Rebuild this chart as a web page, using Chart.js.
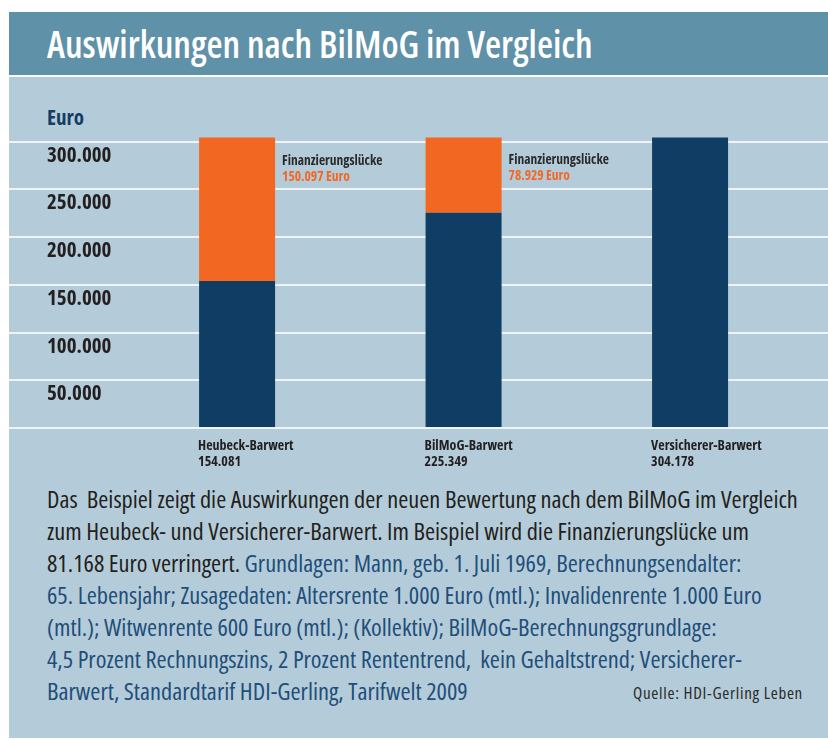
<!DOCTYPE html>
<html lang="de">
<head>
<meta charset="utf-8">
<title>Auswirkungen nach BilMoG im Vergleich</title>
<script src="https://cdn.jsdelivr.net/npm/chart.js@4.4.1/dist/chart.umd.min.js"></script>
<style>
  html, body { margin: 0; padding: 0; background: #fff; overflow: hidden; }
  body { width: 828px; height: 740px; position: relative; font-family: "Open Sans", sans-serif; font-stretch: 75%; }
  #panel { position: absolute; left: 9px; top: 12px; width: 819px; height: 726px; background: #b4ccd9; }
  #head { position: absolute; left: 0; top: 0; width: 819px; height: 63px; background: #5f91a8; border-bottom: 2px solid #fff; }
  #head h1 { position: absolute; left: 38px; top: 13px; margin: 0; font-size: 37px; line-height: 37px; font-weight: 600; color: #fff; white-space: nowrap; }
  #unit { position: absolute; left: 38px; top: 95px; font-size: 21px; line-height: 21px; font-weight: bold; color: #143d63; }
  #box { position: absolute; left: 0; top: 65px; width: 819px; height: 391px; }
  #note { position: absolute; left: 38px; top: 471px; font-size: 24.4px; line-height: 32px; color: #231f20; white-space: pre; }
  #note .b { color: #1f4e79; }
  #src { position: absolute; right: 25px; top: 671px; font-size: 17px; line-height: 20px; letter-spacing: 0.7px; color: #2b2b2b; white-space: nowrap; }
</style>
</head>
<body>
<div id="panel">
  <div id="head"><h1>Auswirkungen nach BilMoG im Vergleich</h1></div>
  <div id="unit">Euro</div>
  <div id="box"><canvas id="chart_bilmog"></canvas></div>
  <div id="note"><div>Das  Beispiel zeigt die Auswirkungen der neuen Bewertung nach dem BilMoG im Vergleich</div><div>zum Heubeck- und Versicherer-Barwert. Im Beispiel wird die Finanzierungslücke um</div><div>81.168 Euro verringert. <span class="b">Grundlagen: Mann, geb. 1. Juli 1969, Berechnungsendalter:</span></div><div class="b">65. Lebensjahr; Zusagedaten: Altersrente 1.000 Euro (mtl.); Invalidenrente 1.000 Euro</div><div class="b">(mtl.); Witwenrente 600 Euro (mtl.); (Kollektiv); BilMoG-Berechnungsgrundlage:</div><div class="b">4,5 Prozent Rechnungszins, 2 Prozent Rententrend,  kein Gehaltstrend; Versicherer-</div><div class="b">Barwert, Standardtarif HDI-Gerling, Tarifwelt 2009</div></div>
  <div id="src">Quelle: HDI-Gerling Leben</div>
</div>
<script>
var categories = ['Heubeck-Barwert', 'BilMoG-Barwert', 'Versicherer-Barwert']
var barwerte = [154081, 225349, 304178]
var luecken = [150097, 78929, 0]
var barwertLabels = ['154.081', '225.349', '304.178']
var lueckeLabels = ['150.097 Euro', '78.929 Euro', '']
var lueckeTitle = 'Finanzierungslücke'
var xPositions = [1, 2, 3]
var yTicks = [0, 50000, 100000, 150000, 200000, 250000, 300000]
var yTickLabels = ['', '50.000', '100.000', '150.000', '200.000', '250.000', '300.000']
var cores = ['#0f3d64', '#f26722']
var fonte = '"Open Sans", sans-serif'

Chart.defaults.font.family = fonte

// labels next to the orange part of the bars
var lueckePlugin = {
    id: 'lueckeLabels',
    afterDatasetsDraw: function(chart) {
        var c = chart.ctx
        var meta = chart.getDatasetMeta(1)
        c.save()
        c.textAlign = 'left'
        c.textBaseline = 'alphabetic'
        c.font = 'normal bold condensed 13.5px ' + fonte
        meta.data.forEach(function(el, i) {
            if (!luecken[i]) return
            var x = el.x + el.width / 2 + 7
            var y = el.y
            c.fillStyle = '#2b2b2b'
            c.fillText(lueckeTitle, x, y + 27)
            c.fillStyle = cores[1]
            c.fillText(lueckeLabels[i], x, y + 43)
        })
        c.restore()
    }
}

var ctx = document.getElementById('chart_bilmog')

var chartBar = new Chart(ctx, {
    type: 'bar',
    data: {
        datasets: [
            {
                label: 'Barwert',
                data: xPositions.map((x, i) => ({x: x, y: barwerte[i]})),
                backgroundColor: cores[0],
                stack: 'a',
                barPercentage: 0.3355,
                categoryPercentage: 1
            },
            {
                label: lueckeTitle,
                data: xPositions.map((x, i) => ({x: x, y: luecken[i]})),
                backgroundColor: cores[1],
                stack: 'a',
                barPercentage: 0.3355,
                categoryPercentage: 1
            }
        ]
    },
    options: {
        responsive: true,
        maintainAspectRatio: false,
        animation: false,
        layout: { padding: { top: 55, left: 0, right: 0, bottom: 0 } },
        plugins: {
            legend: { display: false },
            tooltip: { enabled: false }
        },
        scales: {
            x: {
                type: 'linear',
                offset: false,
                stacked: true,
                min: -0.007,
                max: 3.609,
                grid: { display: false },
                border: { display: false },
                afterBuildTicks: function(scale) {
                    scale.ticks = xPositions.map((v) => ({value: v}))
                },
                afterFit: function(scale) {
                    scale.height = 40
                    scale.paddingLeft = 0
                    scale.paddingRight = 0
                },
                ticks: {
                    align: 'start',
                    labelOffset: -39,
                    padding: 2,
                    maxRotation: 0,
                    autoSkip: false,
                    color: '#231f20',
                    font: { size: 14, weight: 'bold condensed', lineHeight: 16 / 14 },
                    callback: function(value) {
                        var i = xPositions.indexOf(value)
                        return [categories[i], barwertLabels[i]]
                    }
                }
            },
            y: {
                stacked: true,
                min: 0,
                max: 310000,
                border: { display: false },
                grid: { color: '#eef4f7', lineWidth: 2, drawTicks: false },
                afterBuildTicks: function(scale) {
                    scale.ticks = yTicks.map((v) => ({value: v}))
                },
                afterFit: function(scale) {
                    scale.width = 0
                    scale.paddingTop = 0
                    scale.paddingBottom = 0
                },
                ticks: {
                    mirror: true,
                    padding: 38,
                    labelOffset: 14,
                    color: '#231f20',
                    font: { size: 21, weight: 'bold condensed' },
                    callback: function(value) {
                        return yTickLabels[yTicks.indexOf(value)]
                    }
                }
            }
        }
    },
    plugins: [lueckePlugin]
})
</script>
</body>
</html>
